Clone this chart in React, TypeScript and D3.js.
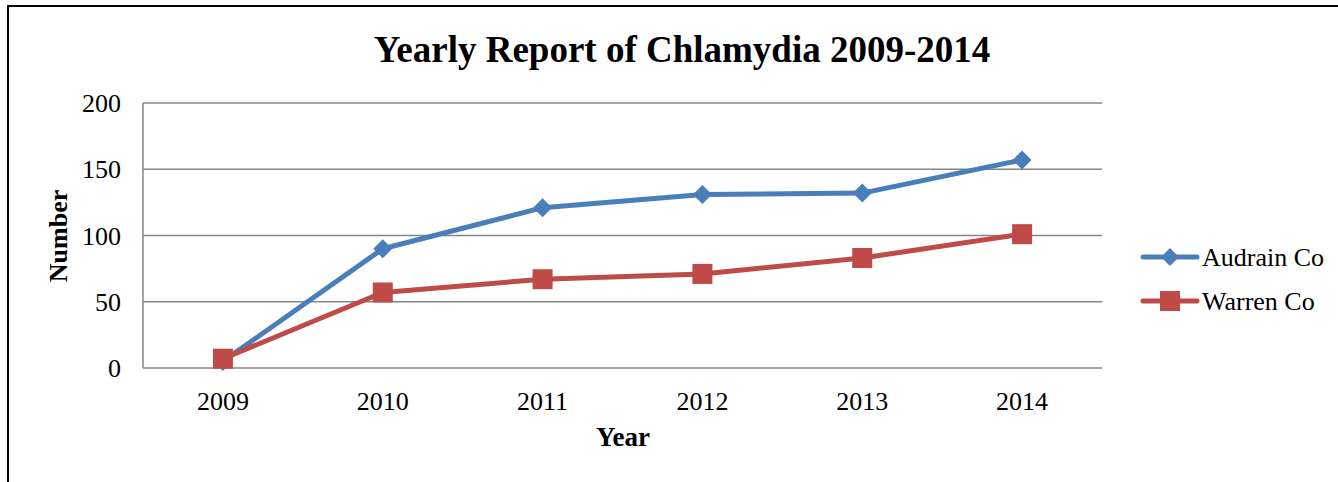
import React from "react";
import * as d3 from "d3";

const years = ["2009", "2010", "2011", "2012", "2013", "2014"];
const audrain = [5, 90, 121, 131, 132, 157];
const warren = [7, 57, 67, 71, 83, 101];
const yTicks = [0, 50, 100, 150, 200];
const seriesNames = ["Audrain Co", "Warren Co"];

const W = 1338, H = 482;
const FONT = "'Liberation Serif', 'Times New Roman', serif";
const BLUE = "#4A7EBB";
const RED = "#BE4B48";

export default function App() {
  const left = 143, right = 1102, top = 103, bottom = 368;
  const x = d3.scaleBand<string>().domain(years).range([left, right]);
  const y = d3.scaleLinear().domain([0, 200]).range([bottom, top]);
  const cx = (d: string) => (x(d) as number) + x.bandwidth() / 2;
  const line = d3.line<number>().x((_, i) => cx(years[i])).y((v) => y(v));
  const diamond = (s: number) => `M0,${-s}L${s},0L0,${s}L${-s},0Z`;

  return (
    <svg width={W} height={H} style={{ position: "absolute", left: 0, top: 0 }} fontFamily={FONT}>
      <rect x={0} y={0} width={W} height={H} fill="#fff" />
      <rect x={8} y={6} width={1500} height={700} fill="none" stroke="#000" strokeWidth={2} />
      <text x={682} y={62} textAnchor="middle" fontSize={37} fontWeight="bold">
        Yearly Report of Chlamydia 2009-2014
      </text>
      {yTicks.map((t) => (
        <g key={t}>
          <line x1={left} x2={right} y1={y(t)} y2={y(t)} stroke="#868686" strokeWidth={1.5} />
          <text x={121} y={y(t)} dy="0.35em" textAnchor="end" fontSize={26}>{t}</text>
        </g>
      ))}
      <line x1={left} x2={left} y1={top} y2={bottom} stroke="#868686" strokeWidth={1.5} />
      {years.map((yr) => (
        <text key={yr} x={cx(yr)} y={410} textAnchor="middle" fontSize={26}>{yr}</text>
      ))}
      <text x={623} y={446} textAnchor="middle" fontSize={27} fontWeight="bold">Year</text>
      <text transform={`translate(67,236) rotate(-90)`} textAnchor="middle" fontSize={26} fontWeight="bold">Number</text>

      <path d={line(audrain) || ""} fill="none" stroke={BLUE} strokeWidth={5} strokeLinejoin="round" />
      {audrain.map((v, i) => (
        <path key={i} d={diamond(9.5)} transform={`translate(${cx(years[i])},${y(v)})`} fill={BLUE} />
      ))}
      <path d={line(warren) || ""} fill="none" stroke={RED} strokeWidth={5} strokeLinejoin="round" />
      {warren.map((v, i) => (
        <rect key={i} x={cx(years[i]) - 10} y={y(v) - 10} width={20} height={20} fill={RED} />
      ))}

      {seriesNames.map((n, i) => {
        const ly = 257 + i * 44;
        const col = i === 0 ? BLUE : RED;
        return (
          <g key={n}>
            <line x1={1143} x2={1197} y1={ly} y2={ly} stroke={col} strokeWidth={5} strokeLinecap="round" />
            {i === 0 ? (
              <path d={diamond(9)} transform={`translate(1170,${ly})`} fill={col} />
            ) : (
              <rect x={1160} y={ly - 10} width={20} height={20} fill={col} />
            )}
            <text x={1202} y={ly} dy="0.35em" fontSize={26}>{n}</text>
          </g>
        );
      })}
    </svg>
  );
}
